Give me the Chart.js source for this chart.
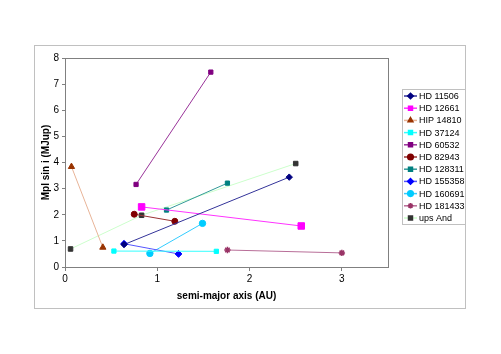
<!DOCTYPE html>
<html>
<head>
<meta charset="utf-8">
<script src="https://cdn.jsdelivr.net/npm/chart.js@4/dist/chart.umd.min.js"></script>
<style>
  html, body { margin: 0; padding: 0; background: #fff; }
  #wrap { width: 501px; height: 354px; }
</style>
</head>
<body>
<div id="wrap"><canvas id="c" width="501" height="354"></canvas></div>
<script>
// planet pairs per system: semi-major axis (AU) and Mpl sin i (MJup)
const starNames = ['HD 11506', 'HD 12661', 'HIP 14810', 'HD 37124', 'HD 60532', 'HD 82943',
                   'HD 128311', 'HD 155358', 'HD 160691', 'HD 181433', 'ups And'];
const axisAU = [
  [0.64, 2.43],
  [0.83, 2.56],
  [0.07, 0.41],
  [0.53, 1.64],
  [0.77, 1.58],
  [0.75, 1.19],
  [1.10, 1.76],
  [0.64, 1.23],
  [0.92, 1.49],
  [1.76, 3.00],
  [0.06, 0.83, 2.50]
];
const massMJup = [
  [0.86, 3.44],
  [2.30, 1.57],
  [3.84, 0.75],
  [0.61, 0.60],
  [3.16, 7.46],
  [2.02, 1.75],
  [2.18, 3.21],
  [0.89, 0.50],
  [0.52, 1.67],
  [0.65, 0.54],
  [0.69, 1.98, 3.96]
];
const xTicks = [0, 1, 2, 3];

const markerColors = ['#000080', '#FF00FF', '#993300', '#00FFFF', '#800080', '#800000',
                      '#008080', '#0000FF', '#00CCFF', '#993366', '#333333'];
const lineColors = ['#333399', '#FF33FF', '#E8B498', '#33FFFF', '#993399', '#993333',
                    '#339999', '#5555FF', '#33CCFF', '#B86E98', '#CCFFCC'];
const markerStyles = ['rectRot', 'rect', 'triangle', 'rect', 'rect', 'circle',
                      'rect', 'rectRot', 'circle', 'star', 'rect'];
const markerSizes = [3.2, 4.6, 3.6, 3, 3, 3, 3, 3.4, 3.2, 3.2, 3.2];

const datasets = starNames.map((name, i) => ({
  label: name,
  data: axisAU[i].map((a, j) => ({ x: a, y: massMJup[i][j] })),
  showLine: true,
  borderColor: lineColors[i],
  borderWidth: 1,
  pointStyle: markerStyles[i],
  pointRadius: markerSizes[i],
  pointBackgroundColor: markerColors[i],
  pointBorderColor: markerColors[i],
  pointBorderWidth: markerStyles[i] === 'star' ? 1.5 : 1
}));

// chart area frame, plot frame and Excel-like legend (line + marker)
const frames = {
  id: 'frames',
  afterDraw(chart) {
    const ctx = chart.ctx;
    const a = chart.chartArea;
    ctx.save();
    ctx.lineWidth = 1;
    ctx.strokeStyle = '#C0C0C0';
    ctx.strokeRect(34.5, 45.5, 431, 263);
    ctx.strokeStyle = '#808080';
    ctx.strokeRect(Math.round(a.left) + 0.5, Math.round(a.top) + 0.5,
                   Math.round(a.right - a.left), Math.round(a.bottom - a.top));

    const lx = 402, ly = 89, lw = 63, lh = 135, row = 12.2;
    ctx.strokeStyle = '#C0C0C0';
    ctx.strokeRect(lx + 0.5, ly + 0.5, lw, lh);
    ctx.font = '9px "Liberation Sans", Arial, sans-serif';
    ctx.textBaseline = 'middle';
    ctx.textAlign = 'left';
    chart.data.datasets.forEach((ds, i) => {
      const y = ly + 7 + i * row;
      ctx.strokeStyle = ds.borderColor;
      ctx.lineWidth = 1.5;
      ctx.beginPath();
      ctx.moveTo(lx + 2, y);
      ctx.lineTo(lx + 15, y);
      ctx.stroke();
      ctx.fillStyle = ds.pointBackgroundColor;
      ctx.strokeStyle = ds.pointBorderColor;
      Chart.helpers.drawPoint(ctx, {
        pointStyle: ds.pointStyle,
        radius: Math.min(ds.pointRadius, 2.8),
        rotation: 0,
        borderWidth: ds.pointBorderWidth
      }, lx + 8.5, y);
      ctx.fillStyle = '#000';
      ctx.fillText(ds.label, lx + 17, y + 0.5);
    });
    ctx.restore();
  }
};

new Chart(document.getElementById('c'), {
  type: 'scatter',
  data: { datasets },
  options: {
    responsive: false,
    animation: false,
    layout: { padding: { left: 34, right: 113, top: 58, bottom: 47 } },
    plugins: { legend: { display: false }, tooltip: { enabled: false } },
    scales: {
      x: {
        type: 'linear',
        min: 0,
        max: 3.5,
        afterBuildTicks: s => { s.ticks = xTicks.map(v => ({ value: v })); },
        afterFit: s => { s.height = 40; },
        grid: { drawOnChartArea: false, drawTicks: true, tickLength: 4, color: '#808080' },
        border: { display: true, color: '#808080' },
        ticks: { color: '#000', padding: 2, font: { family: '"Liberation Sans", Arial', size: 10 } },
        title: {
          display: true,
          text: 'semi-major axis (AU)',
          color: '#000',
          padding: { top: 2, bottom: 5 },
          font: { family: '"Liberation Sans", Arial', size: 10, weight: 'bold' }
        }
      },
      y: {
        min: 0,
        max: 8,
        afterFit: s => { s.width = 31; },
        grid: { drawOnChartArea: false, drawTicks: true, tickLength: 3, color: '#808080' },
        border: { display: true, color: '#808080' },
        ticks: { stepSize: 1, color: '#000', padding: 3, font: { family: '"Liberation Sans", Arial', size: 10 } },
        title: {
          display: true,
          text: 'Mpl sin i (MJup)',
          color: '#000',
          padding: { top: 6, bottom: 2 },
          font: { family: '"Liberation Sans", Arial', size: 10, weight: 'bold' }
        }
      }
    }
  },
  plugins: [frames]
});
</script>
</body>
</html>
